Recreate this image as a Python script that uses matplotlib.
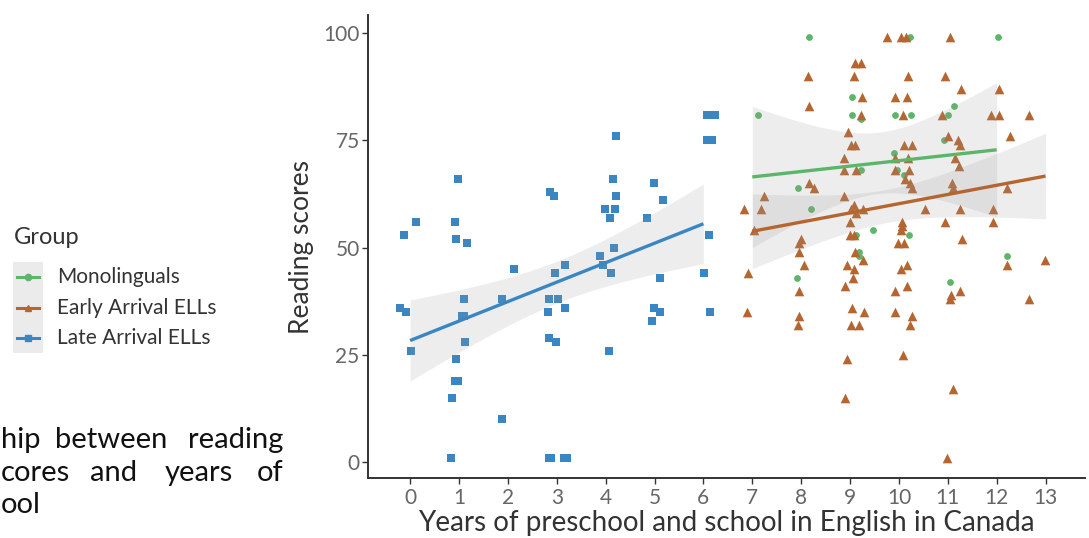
import numpy as np
import matplotlib
matplotlib.use("Agg")
import matplotlib.pyplot as plt
from matplotlib.lines import Line2D
from matplotlib.patches import Rectangle

plt.rcParams['font.family'] = ['Lato', 'DejaVu Sans']

# jittered positions (years) and reading scores per group
mono_x = [8.17, 10.22, 12.02, 9.05, 7.12, 9.05, 9.22, 9.92, 10.24, 11.00, 11.12, 10.93, 9.90,
          9.22, 9.97, 10.10, 7.94, 8.21, 9.46, 10.20, 9.12, 9.18, 9.18, 7.91, 12.21, 11.05]
mono_y = [99, 99, 99, 85, 81, 81, 80, 81, 81, 81, 83, 75, 72,
          68, 68, 67, 64, 59, 54, 53, 53, 49, 48, 43, 48, 42]

early_x = [9.75, 10.04, 10.14, 11.05, 9.10, 9.22, 8.13, 9.08, 10.18, 10.94, 11.27, 12.04,
           9.25, 9.92, 10.16, 8.17, 9.23, 10.09, 10.89, 11.88, 12.04, 12.66, 8.96, 11.00,
           12.28, 11.21, 9.02, 9.11, 10.11, 10.27, 11.25, 8.88, 10.18, 11.15, 9.93, 8.88,
           9.13, 9.92, 10.21, 11.23, 10.12, 10.22, 10.26, 8.16, 8.26, 11.08, 11.11, 12.21,
           7.23, 8.88, 9.09, 9.02, 9.27, 9.13, 6.84, 7.17, 10.53, 11.26, 11.92, 9.00,
           10.07, 10.95, 11.93, 10.07, 7.04, 10.04, 9.00, 9.09, 8.00, 11.29, 7.95, 9.99,
           10.10, 7.95, 9.11, 9.26, 12.98, 8.05, 8.94, 10.17, 12.21, 9.08, 10.05, 6.92,
           9.07, 8.90, 10.16, 7.95, 9.91, 11.26, 11.06, 11.04, 12.67, 9.05, 6.90, 9.28,
           9.91, 7.96, 10.27, 7.94, 9.02, 9.19, 10.22, 10.08, 8.94, 11.11, 8.89, 10.98]
early_y = [99, 99, 99, 99, 93, 93, 90, 90, 90, 90, 87, 87,
           85, 85, 85, 83, 81, 81, 81, 81, 81, 81, 77, 76,
           76, 75, 74, 74, 74, 74, 74, 71, 71, 71, 71, 68,
           68, 68, 68, 69, 66, 65, 64, 65, 64, 65, 64, 64,
           62, 62, 60, 59, 59, 58, 59, 59, 59, 59, 59, 56,
           56, 56, 56, 55, 54, 54, 53, 53, 52, 52, 51, 51,
           51, 49, 49, 47, 47, 46, 46, 46, 46, 45, 45, 44,
           43, 41, 41, 40, 40, 40, 39, 38, 38, 36, 35, 35,
           35, 34, 34, 32, 32, 32, 32, 25, 24, 17, 15, 1]

late_x = [-0.20, -0.09, -0.13, 0.13, 0.01,
          0.98, 0.91, 0.93, 1.16, 1.10, 1.06, 1.11, 1.13, 0.93, 0.91, 0.97, 0.85, 0.83,
          1.88, 2.13, 1.87,
          2.84, 2.88, 3.15, 3.20, 2.87, 2.95, 2.97, 3.16, 2.84, 3.03, 2.83, 3.16, 2.84, 2.99,
          4.22, 4.16, 4.21, 3.99, 4.20, 4.09, 4.17, 3.89, 3.95, 4.12, 4.06,
          4.99, 5.18, 4.84, 5.12, 4.99, 5.11, 4.94,
          6.07, 6.24, 6.07, 6.17, 6.11, 6.01, 6.13]
late_y = [36, 35, 53, 56, 26,
          66, 56, 52, 51, 38, 34, 34, 28, 24, 19, 19, 15, 1,
          38, 45, 10,
          1, 1, 1, 1, 63, 62, 44, 46, 38, 38, 35, 36, 29, 28,
          76, 66, 62, 59, 59, 57, 50, 48, 46, 44, 26,
          65, 61, 57, 43, 36, 35, 33,
          81, 81, 75, 75, 53, 44, 35]

groups = ['Monolinguals', 'Early Arrival ELLs', 'Late Arrival ELLs']
colors = ['#5db56a', '#b5652f', '#3a86c2']
markers = ['o', '^', 's']
sizes = [24, 48, 28]

x_ticks = list(range(0, 14))
y_ticks = [0, 25, 50, 75, 100]

W, H = 1089, 538


def t_quantile(df, z=1.959964):
    # Cornish-Fisher style expansion of the Student t 97.5% quantile
    return (z + (z**3 + z) / (4 * df) + (5 * z**5 + 16 * z**3 + 3 * z) / (96 * df**2))


def lm_band(x, y):
    x = np.asarray(x, float)
    y = np.asarray(y, float)
    b, a = np.polyfit(x, y, 1)
    n = len(x)
    resid = y - (a + b * x)
    s = np.sqrt(np.sum(resid**2) / (n - 2))
    xs = np.linspace(x.min(), x.max(), 80)
    se = s * np.sqrt(1 / n + (xs - x.mean())**2 / np.sum((x - x.mean())**2))
    fit = a + b * xs
    t = t_quantile(n - 2)
    return xs, fit, fit - t * se, fit + t * se


def fx(px):
    return px / W


def fy(py):
    return 1 - py / H


fig = plt.figure(figsize=(W / 100, H / 100), dpi=100)
ax = fig.add_axes([0.338, 0.1115, 0.658, 0.8605])

data = [(mono_x, mono_y), (early_x, early_y), (late_x, late_y)]
for (gx, gy), c, m, s in zip(data, colors, markers, sizes):
    ax.scatter(gx, gy, s=s, marker=m, color=c, linewidths=0, zorder=2)

for (gx, gy), c in zip(data, colors):
    years = np.round(gx)
    xs, fit, lo, hi = lm_band(years, gy)
    ax.fill_between(xs, lo, hi, color='#999999', alpha=0.17, linewidth=0, zorder=3)
    ax.plot(xs, fit, color=c, lw=2.4, zorder=4, solid_capstyle='butt')

ax.set_xlim(-0.86, 13.8)
ax.set_ylim(-3.7, 104.2)
ax.set_xticks(x_ticks)
ax.set_yticks(y_ticks)
ax.tick_params(colors='#333333', labelcolor='#666666', labelsize=15, length=4, width=1)
ax.tick_params(axis='y', pad=2)
for side in ['top', 'right']:
    ax.spines[side].set_visible(False)
for side in ['left', 'bottom']:
    ax.spines[side].set_color('#333333')
    ax.spines[side].set_linewidth(1.4)

ax.set_xlabel('Years of preschool and school in English in Canada', fontsize=20, color='#333333', labelpad=1)
ax.set_ylabel('Reading scores', fontsize=19, color='#333333', labelpad=7)

# legend drawn by hand on the left
fig.text(fx(14), fy(238), 'Group', fontsize=17, color='#333333', ha='left', va='center')
fig.add_artist(Rectangle((fx(13), fy(353)), fx(30), (353 - 262) / H, transform=fig.transFigure,
                         facecolor='#ebebeb', edgecolor='none'))
for i, (g, c, m) in enumerate(zip(groups, colors, markers)):
    yy = fy(277 + i * 30.5)
    fig.add_artist(Line2D([fx(17), fx(39)], [yy, yy], transform=fig.transFigure, color=c, lw=2.2))
    fig.add_artist(Line2D([fx(28)], [yy], transform=fig.transFigure, color=c, marker=m,
                          markersize=4.5, lw=0))
    fig.text(fx(57), yy, g, fontsize=15, color='#333333', ha='left', va='center')

# caption fragment: first word of each line starts at the left edge, the rest are right-aligned
cap_lines = [
    (['hip', 'between', 'reading'], [167, 283], 440),
    (['cores', 'and', 'years', 'of'], [137, 233, 283], 473),
    (['ool'], [], 505),
]
for words, rights, ypix in cap_lines:
    fig.text(fx(1), fy(ypix), words[0], ha='left', va='center', fontsize=21, color='#111111')
    for w, r in zip(words[1:], rights):
        fig.text(fx(r), fy(ypix), w, ha='right', va='center', fontsize=21, color='#111111')

fig.savefig('out.png', dpi=100)
